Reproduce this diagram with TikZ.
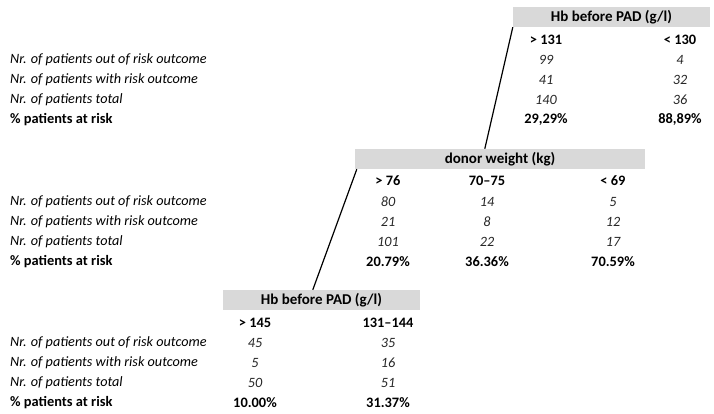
\documentclass[tikz,border=0pt]{standalone}
\usepackage{fontspec}
\setmainfont{Carlito}
\begin{document}
\begin{tikzpicture}[x=1pt,y=-1pt,
  hdrbox/.style={fill=boxgray, draw=none, inner sep=0pt, minimum height=20pt, font=\fontsize{15}{17}\selectfont\bfseries},
  rowlbl/.style={anchor=west, inner sep=0pt, font=\fontsize{14.2}{16}\selectfont\itshape},
  risklbl/.style={anchor=west, inner sep=0pt, font=\fontsize{14.4}{16}\selectfont\bfseries},
  val/.style={inner sep=0pt, font=\fontsize{14.2}{16}\selectfont\itshape, text=black!85},
  colhd/.style={inner sep=0pt, font=\fontsize{14.4}{16}\selectfont\bfseries},
  link/.style={line width=1.2pt, black}]
\definecolor{boxgray}{HTML}{D9D9D9}
\useasboundingbox (0,0) rectangle (714,414);

% ---------- top table ----------
\node[hdrbox, minimum width=197pt] (box1) at (611.5,17) {Hb before PAD (g/l)};
\node[colhd] (t1h1) at (546,40) {> 131};
\node[colhd] (t1h2) at (680,40) {< 130};
\node[rowlbl] (t1l1) at (10,60) {Nr. of patients out of risk outcome};
\node[rowlbl] (t1l2) at (10,80) {Nr. of patients with risk outcome};
\node[rowlbl] (t1l3) at (10,100) {Nr. of patients total};
\node[risklbl] (t1l4) at (10,120) {\% patients at risk};
\node[val] (t1a1) at (546,60) {99};
\node[val] (t1a2) at (546,80) {41};
\node[val] (t1a3) at (546,100) {140};
\node[colhd] (t1a4) at (546,120) {29,29\%};
\node[val] (t1b1) at (680,60) {4};
\node[val] (t1b2) at (680,80) {32};
\node[val] (t1b3) at (680,100) {36};
\node[colhd] (t1b4) at (680,120) {88,89\%};

% ---------- middle table ----------
\node[hdrbox, minimum width=290pt] (box2) at (500,159) {donor weight (kg)};
\node[colhd] (t2h1) at (388,181) {> 76};
\node[colhd] (t2h2) at (487,181) {70--75};
\node[colhd] (t2h3) at (613,181) {< 69};
\node[rowlbl] (t2l1) at (10,202) {Nr. of patients out of risk outcome};
\node[rowlbl] (t2l2) at (10,222) {Nr. of patients with risk outcome};
\node[rowlbl] (t2l3) at (10,242) {Nr. of patients total};
\node[risklbl] (t2l4) at (10,262) {\% patients at risk};
\node[val] (t2a1) at (388,202) {80};
\node[val] (t2a2) at (388,222) {21};
\node[val] (t2a3) at (388,242) {101};
\node[colhd] (t2a4) at (388,262) {20.79\%};
\node[val] (t2b1) at (487,202) {14};
\node[val] (t2b2) at (487,222) {8};
\node[val] (t2b3) at (487,242) {22};
\node[colhd] (t2b4) at (487,262) {36.36\%};
\node[val] (t2c1) at (613,202) {5};
\node[val] (t2c2) at (613,222) {12};
\node[val] (t2c3) at (613,242) {17};
\node[colhd] (t2c4) at (613,262) {70.59\%};

% ---------- bottom table ----------
\node[hdrbox, minimum width=197pt] (box3) at (321.5,300) {Hb before PAD (g/l)};
\node[colhd] (t3h1) at (255,323) {> 145};
\node[colhd] (t3h2) at (388,323) {131--144};
\node[rowlbl] (t3l1) at (10,343) {Nr. of patients out of risk outcome};
\node[rowlbl] (t3l2) at (10,363) {Nr. of patients with risk outcome};
\node[rowlbl] (t3l3) at (10,383) {Nr. of patients total};
\node[risklbl] (t3l4) at (10,403) {\% patients at risk};
\node[val] (t3a1) at (255,343) {45};
\node[val] (t3a2) at (255,363) {5};
\node[val] (t3a3) at (255,383) {50};
\node[colhd] (t3a4) at (255,403) {10.00\%};
\node[val] (t3b1) at (388,343) {35};
\node[val] (t3b2) at (388,363) {16};
\node[val] (t3b3) at (388,383) {51};
\node[colhd] (t3b4) at (388,403) {31.37\%};

% ---------- connectors ----------
\draw[link] (box1.south west) -- ([xshift=130pt]box2.north west);
\draw[link] ([xshift=2pt]box2.south west) -- ([xshift=90pt]box3.north west);
\end{tikzpicture}
\end{document}
